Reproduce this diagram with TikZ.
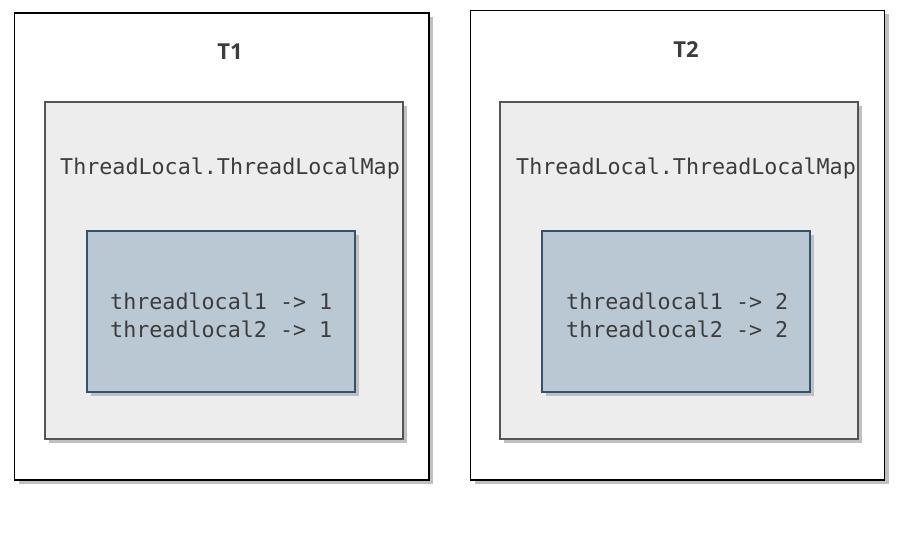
\documentclass[tikz,border=0pt]{standalone}
\usepackage{fontspec}
\setmainfont{Open Sans}
\newfontfamily\monofnt{DejaVu Sans Mono}
\usetikzlibrary{shadows}
\definecolor{txtc}{HTML}{3C3C3C}
\definecolor{shadowc}{HTML}{C0C0C0}
\definecolor{mapfill}{HTML}{EDEDED}
\definecolor{mapdraw}{HTML}{555555}
\definecolor{entfill}{HTML}{BAC8D3}
\definecolor{entdraw}{HTML}{35516B}
\tikzset{
  shd/.style={general shadow={fill=shadowc, shadow xshift=4pt, shadow yshift=-4pt}},
  threadbox/.style={rectangle, draw=black, line width=1.5pt, fill=white, shd, inner sep=0pt},
  mapbox/.style={rectangle, draw=mapdraw, line width=1.5pt, fill=mapfill, shd, inner sep=0pt},
  entbox/.style={rectangle, draw=entdraw, line width=1.2pt, fill=entfill, shd, inner sep=0pt},
  ttl/.style={text=txtc, inner sep=0pt, font=\fontsize{22}{26}\selectfont\bfseries},
  mono/.style={text=txtc, inner sep=0pt, font=\monofnt\fontsize{21.7}{28}\selectfont},
}
\begin{document}
\begin{tikzpicture}[x=1pt,y=-1pt]
\useasboundingbox (0,0) rectangle (904,537);
% T1
\node[threadbox, minimum width=414.5pt, minimum height=467pt] (t1) at (221.75,246.5) {};
\node[ttl, anchor=base] (t1lbl) at (230,60) {T1};
\node[mapbox, minimum width=358pt, minimum height=337pt] (m1) at (224,270.5) {};
\node[mono, anchor=base west] (m1lbl) at (60,175) {ThreadLocal.ThreadLocalMap};
\node[entbox, minimum width=268pt, minimum height=161pt] (e1) at (221,311.5) {};
\node[mono, anchor=base west] (e1a) at (110,309) {threadlocal1 -> 1};
\node[mono, anchor=base west] (e1b) at (110,337) {threadlocal2 -> 1};
% T2
\node[threadbox, minimum width=414pt, minimum height=469.5pt] (t2) at (677.5,245.25) {};
\node[ttl, anchor=base] (t2lbl) at (686,58) {T2};
\node[mapbox, minimum width=358pt, minimum height=337pt] (m2) at (679,270.5) {};
\node[mono, anchor=base west] (m2lbl) at (516,175) {ThreadLocal.ThreadLocalMap};
\node[entbox, minimum width=268pt, minimum height=161pt] (e2) at (676,311.5) {};
\node[mono, anchor=base west] (e2a) at (566,309) {threadlocal1 -> 2};
\node[mono, anchor=base west] (e2b) at (566,337) {threadlocal2 -> 2};
\end{tikzpicture}
\end{document}
